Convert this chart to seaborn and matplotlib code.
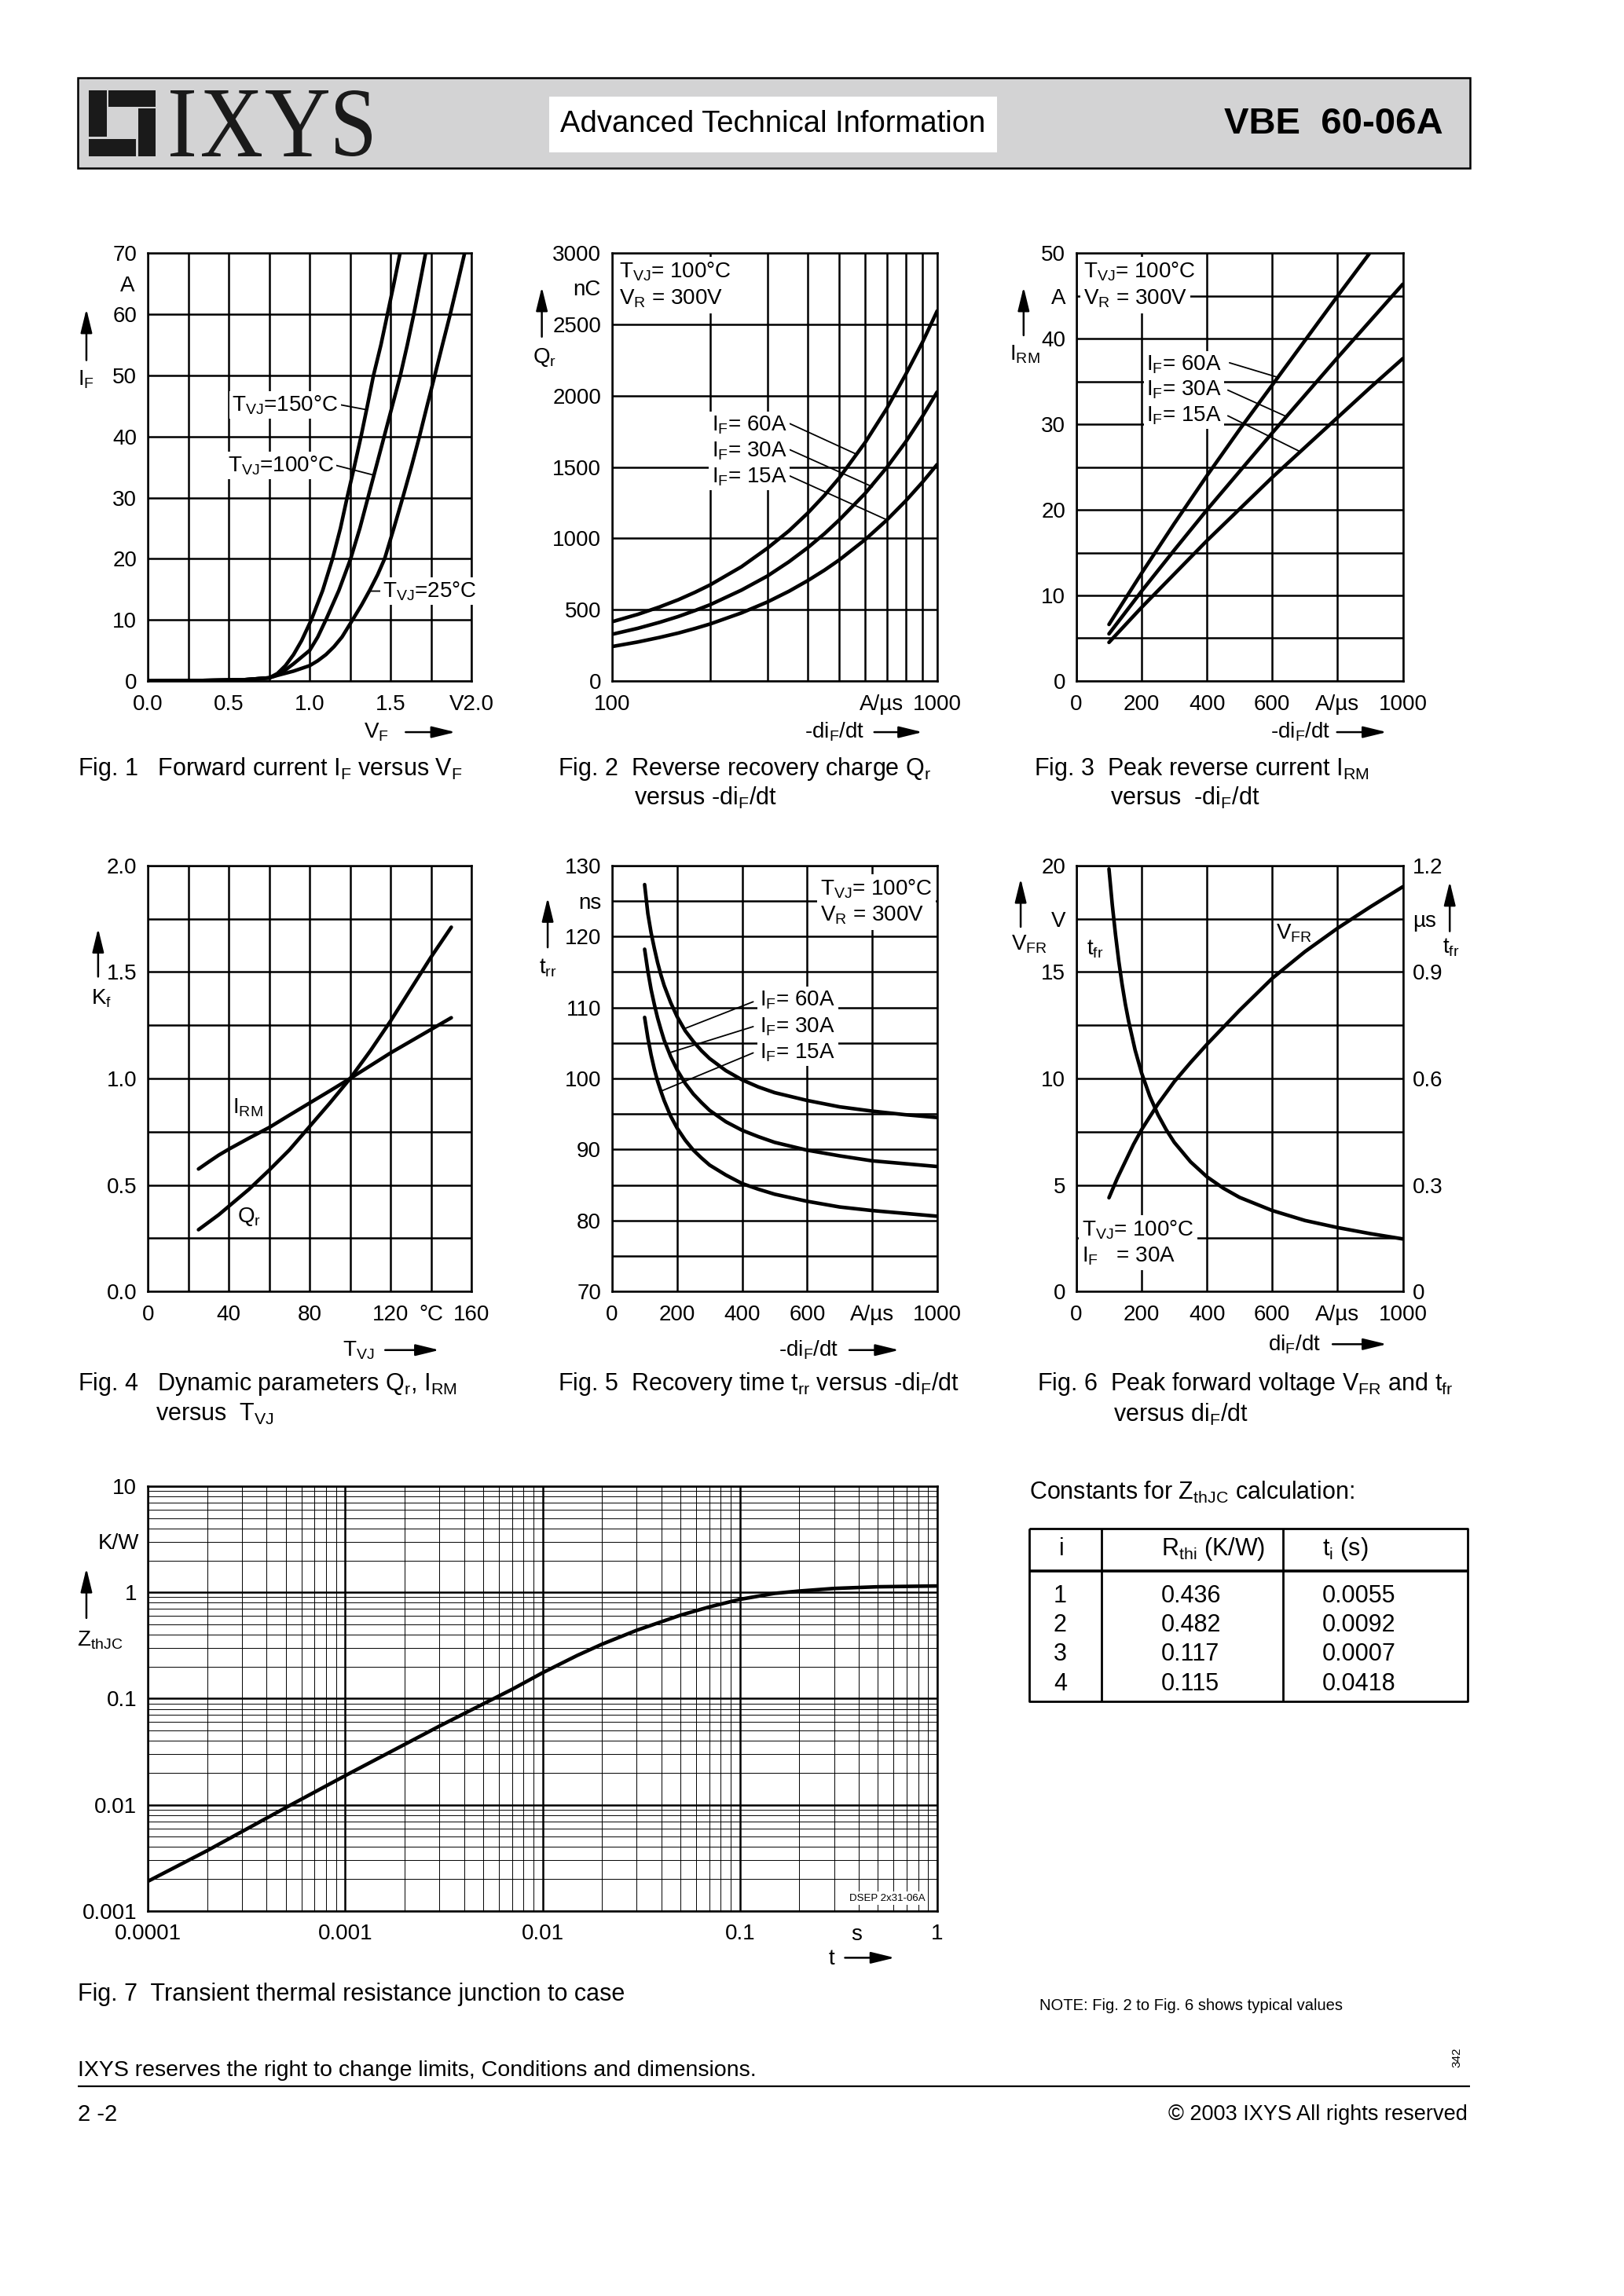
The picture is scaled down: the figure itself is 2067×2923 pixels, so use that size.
import matplotlib
matplotlib.use("Agg")
import numpy as np
import pandas as pd
import matplotlib.pyplot as plt
import seaborn as sns
import matplotlib.ticker as mticker
from matplotlib.patches import Rectangle, FancyArrowPatch, PathPatch
from matplotlib.lines import Line2D
from matplotlib.textpath import TextPath
from matplotlib.font_manager import FontProperties
from matplotlib.transforms import Affine2D

# ---------------------------------------------------------------- data
# Fig. 1  forward current IF (A) versus VF (V)
f1_v150 = [0.0, 0.3, 0.6, 0.75, 0.8, 0.85, 0.9, 0.95, 1.01, 1.08, 1.141, 1.19, 1.231, 1.275, 1.317,
           1.356, 1.394, 1.44, 1.48, 1.52, 1.558]
f1_i150 = [0.0, 0.05, 0.2, 0.5, 1.2, 2.5, 4.3, 6.6, 10.0, 14.8, 20.0, 25.0, 30.0, 35.0, 40.0,
           45.0, 50.0, 55.0, 60.0, 65.0, 70.0]
f1_v100 = [0.0, 0.3, 0.6, 0.75, 0.8, 0.85, 0.9, 0.95, 1.0, 1.05, 1.1, 1.18, 1.253, 1.31, 1.36,
           1.41, 1.46, 1.51, 1.56, 1.603, 1.643, 1.68, 1.716]
f1_i100 = [0.0, 0.05, 0.2, 0.5, 1.0, 1.8, 2.8, 3.9, 5.0, 7.2, 10.0, 14.8, 20.0, 25.0, 30.0,
           35.0, 40.0, 45.0, 50.0, 55.0, 60.0, 65.0, 70.0]
f1_v25 = [0.0, 0.3, 0.6, 0.75, 0.8, 0.9, 1.0, 1.05, 1.1, 1.15, 1.2, 1.265, 1.32, 1.37, 1.42, 1.463,
          1.52, 1.575, 1.63, 1.678, 1.725, 1.773, 1.82, 1.868, 1.913, 1.957]
f1_i25 = [0.0, 0.05, 0.2, 0.5, 0.9, 1.6, 2.5, 3.3, 4.3, 5.6, 7.2, 10.0, 12.4, 14.8, 17.4, 20.0,
          25.0, 30.0, 35.2, 40.0, 45.0, 50.0, 55.0, 60.0, 65.0, 70.0]

# Fig. 2  reverse recovery charge Qr (nC) versus -diF/dt (A/us)
f2_didt = [100, 120, 140, 160, 180, 200, 250, 300, 350, 400, 450, 500, 600, 700, 800, 900, 1000]
f2_q60 = [415, 467, 519, 570, 622, 673, 801, 930, 1053, 1178, 1302, 1425, 1672, 1912, 2150, 2374, 2596]
f2_q30 = [327, 369, 411, 452, 494, 534, 637, 735, 836, 935, 1033, 1130, 1315, 1498, 1677, 1855, 2028]
f2_q15 = [241, 273, 305, 336, 368, 399, 477, 553, 629, 704, 777, 849, 991, 1129, 1263, 1393, 1519]

# Fig. 3  peak reverse current IRM (A) versus -diF/dt (A/us)
f3_didt60 = [100, 200, 300, 400, 500, 600, 700, 800, 898]
f3_i60 = [6.6, 12.6, 18.4, 24.0, 29.4, 34.6, 39.8, 45.0, 50.0]
f3_didt = [100, 200, 300, 400, 500, 600, 700, 800, 900, 1000]
f3_i30 = [5.5, 10.5, 15.3, 20.0, 24.5, 29.0, 33.4, 37.8, 42.1, 46.4]
f3_i15 = [4.5, 8.6, 12.5, 16.4, 20.1, 23.8, 27.3, 30.8, 34.3, 37.7]

# Fig. 4  dynamic parameters Kf versus TVJ (degC)
f4_t_qr = [25, 30, 35, 40, 45, 50, 55, 60, 70, 80, 90, 100, 110, 120, 130, 140, 150]
f4_qr = [0.29, 0.325, 0.36, 0.40, 0.44, 0.48, 0.525, 0.57, 0.665, 0.775, 0.885, 1.0, 1.13, 1.27,
         1.42, 1.57, 1.71]
f4_t_irm = [25, 30, 35, 40, 50, 60, 70, 80, 90, 100, 110, 120, 130, 140, 150]
f4_irm = [0.575, 0.608, 0.64, 0.668, 0.72, 0.77, 0.828, 0.885, 0.942, 1.0, 1.06, 1.12, 1.175,
          1.23, 1.285]

# Fig. 5  recovery time trr (ns) versus -diF/dt (A/us)
f5_didt = [100, 110, 120, 130, 140, 150, 160, 180, 200, 225, 250, 275, 300, 350, 400, 450, 500,
           600, 700, 800, 900, 1000]
f5_t60 = [127.3, 123.2, 120.5, 118.3, 116.3, 114.6, 113.1, 110.7, 108.7, 106.7, 105.2, 103.9,
          102.8, 101.1, 99.8, 98.8, 98.0, 96.9, 96.0, 95.4, 94.9, 94.5]
f5_t30 = [118.2, 115.1, 112.5, 110.4, 108.5, 106.9, 105.4, 103.1, 101.2, 99.3, 97.8, 96.6, 95.5,
          93.9, 92.7, 91.8, 91.0, 89.9, 89.1, 88.4, 88.0, 87.6]
f5_t15 = [108.6, 105.7, 103.3, 101.3, 99.6, 98.2, 96.9, 94.7, 93.0, 91.3, 89.9, 88.8, 87.8, 86.4,
          85.2, 84.4, 83.7, 82.7, 81.9, 81.4, 81.0, 80.6]

# Fig. 6  peak forward voltage VFR (V) and tfr (us) versus diF/dt (A/us)
f6_didt_v = [100, 125, 150, 175, 200, 250, 300, 350, 400, 450, 500, 600, 700, 800, 900, 1000]
f6_vfr = [4.4, 5.3, 6.1, 6.9, 7.6, 8.8, 9.85, 10.75, 11.6, 12.4, 13.2, 14.7, 15.95, 17.05, 18.05, 19.0]
f6_didt_t = [100, 110, 120, 130, 140, 150, 160, 180, 200, 225, 250, 275, 300, 350, 400, 450, 500,
             600, 700, 800, 900, 1000]
f6_tfr = [1.19, 1.09, 1.005, 0.93, 0.866, 0.81, 0.762, 0.68, 0.615, 0.55, 0.498, 0.456, 0.42,
          0.365, 0.323, 0.291, 0.265, 0.228, 0.2, 0.18, 0.163, 0.148]

# Fig. 7  transient thermal resistance ZthJC (K/W) versus t (s)
f7_t = [1e-4, 2e-4, 5e-4, 1e-3, 2e-3, 3e-3, 5e-3, 7e-3, 1e-2, 1.5e-2, 2e-2, 3e-2, 5e-2, 7e-2,
        0.1, 0.15, 0.2, 0.3, 0.5, 1.0]
f7_z = [0.0019, 0.0037, 0.0094, 0.0188, 0.037, 0.055, 0.089, 0.122, 0.175, 0.255, 0.325, 0.44,
        0.61, 0.73, 0.86, 0.98, 1.03, 1.09, 1.13, 1.15]

# Table: constants for ZthJC calculation
tab_i = [1, 2, 3, 4]
tab_rthi = [0.436, 0.482, 0.117, 0.115]
tab_ti = [0.0055, 0.0092, 0.0007, 0.0418]

# tick labels
f1_xlabels = ['0.0', '', '0.5', '', '1.0', '', '1.5', '', 'V2.0']
f1_ylabels = ['0', '10', '20', '30', '40', '50', '60', '70']
f2_xlabels = ['100', '', '', '', '', '', '', '', '', '1000']
f2_ylabels = ['0', '500', '1000', '1500', '2000', '2500', '3000']
f3_xlabels = ['0', '200', '400', '600', 'A/\u00b5s', '1000']
f3_ylabels = ['0', '', '10', '', '20', '', '30', '', '40', 'A', '50']
f4_xlabels = ['0', '', '40', '', '80', '', '120', '\u00b0C', '160']
f4_ylabels = ['0.0', '', '0.5', '', '1.0', '', '1.5', '', '2.0']
f5_xlabels = ['0', '200', '400', '600', 'A/\u00b5s', '1000']
f5_ylabels = ['70', '', '80', '', '90', '', '100', '', '110', '', '120', 'ns', '130']
f6_xlabels = ['0', '200', '400', '600', 'A/\u00b5s', '1000']
f6_ylabels = ['0', '', '5', '', '10', '', '15', 'V', '20']
f6_y2labels = ['0', '0.3', '0.6', '0.9', '\u00b5s', '1.2']
f7_xlabels = ['0.0001', '0.001', '0.01', '0.1', '1']
f7_ylabels = ['0.001', '0.01', '0.1', '1', '10']

# ---------------------------------------------------------------- style
sns.set_style("white")
plt.rcParams['font.family'] = ['Liberation Sans', 'DejaVu Sans']
plt.rcParams['mathtext.fontset'] = 'custom'
plt.rcParams['mathtext.rm'] = 'Liberation Sans'
plt.rcParams['mathtext.it'] = 'Liberation Sans:italic'
plt.rcParams['mathtext.bf'] = 'Liberation Sans:bold'
plt.rcParams['text.color'] = 'black'
plt.rcParams['axes.axisbelow'] = True

W, H = 2067, 2923
SW, SH = 1109.0, 1568.0
fig = plt.figure(figsize=(W / 100, H / 100), dpi=100)
fig.patch.set_facecolor('white')

TICK_FS = 20
LBL_FS = 20
CAP_FS = 22
TAB_FS = 22
GRID_LW = 1.8
CURVE_LW = 3.3
LEAD_LW = 1.3
BLACK = 'black'


def fx(x):
    return x / SW


def fy(y):
    return 1 - y / SH


def add_ax(x0, y0, x1, y1):
    return fig.add_axes([fx(x0), fy(y1), (x1 - x0) / SW, (y1 - y0) / SH])


def ftext(x, y, s, **kw):
    kw.setdefault('fontsize', LBL_FS)
    kw.setdefault('va', 'center')
    return fig.text(fx(x), fy(y), s, **kw)


def farrow(x0, y0, x1, y1, ms=16):
    fig.add_artist(FancyArrowPatch((fx(x0), fy(y0)), (fx(x1), fy(y1)),
                                   transform=fig.transFigure,
                                   arrowstyle='-|>,head_length=1.15,head_width=0.28',
                                   mutation_scale=ms, lw=1.8, color=BLACK,
                                   shrinkA=0, shrinkB=0))


def fline(xs, ys, lw=2.0):
    fig.add_artist(Line2D([fx(v) for v in xs], [fy(v) for v in ys],
                          transform=fig.transFigure, color=BLACK, lw=lw,
                          solid_capstyle='butt'))


def style_ax(ax, xpad=12, ypad=10):
    ax.set_facecolor('white')
    ax.tick_params(axis='both', which='both', length=0, labelsize=TICK_FS, colors=BLACK)
    ax.tick_params(axis='x', pad=xpad)
    ax.tick_params(axis='y', pad=ypad)
    for sp in ax.spines.values():
        sp.set_visible(True)
        sp.set_linewidth(GRID_LW)
        sp.set_color(BLACK)
    ax.grid(True, which='major', color=BLACK, linewidth=GRID_LW)
    ax.set_xlabel('')
    ax.set_ylabel('')


def curve(ax, xs, ys):
    sns.lineplot(x=xs, y=ys, ax=ax, color=BLACK, linewidth=CURVE_LW,
                 estimator=None, sort=False, legend=False)


def label(ax, x, y, s, ha='left'):
    ax.text(x, y, s, ha=ha, va='center', fontsize=LBL_FS, zorder=5,
            bbox=dict(facecolor='white', edgecolor='none', pad=2.5))


def leader(ax, p0, p1):
    ax.annotate('', xy=p1, xytext=p0,
                arrowprops=dict(arrowstyle='-', lw=LEAD_LW, color=BLACK,
                                shrinkA=0, shrinkB=0), zorder=4)


def boxtext(ax, x, y, s):
    ax.text(x, y, s, transform=ax.transAxes, ha='left', va='center',
            fontsize=LBL_FS, zorder=5,
            bbox=dict(facecolor='white', edgecolor='none', pad=3))


SUB = lambda s: r'$_{\rm ' + s + '}$'

# ---------------------------------------------------------------- header
fig.add_artist(Rectangle((99 / W, 1 - 214 / H), (1871 - 99) / W, (214 - 99) / H,
                         transform=fig.transFigure, facecolor='#d3d3d4',
                         edgecolor=BLACK, lw=1.8))
fig.add_artist(Rectangle((699 / W, 1 - 194 / H), (1269 - 699) / W, (194 - 123) / H,
                         transform=fig.transFigure, facecolor='white',
                         edgecolor='none'))
fig.text(984 / W, 1 - 158 / H, 'Advanced Technical Information', fontsize=27.5,
         ha='center', va='center')
fig.text(1837 / W, 1 - 158 / H, 'VBE  60-06A', fontsize=34, fontweight='bold',
         ha='right', va='center')

# logo square
for (x0, x1, y0, y1) in [(113.3, 135.7, 115, 174), (138.3, 197.7, 115, 135.7),
                         (176, 197.7, 138.3, 199), (113.3, 173.3, 176.7, 199)]:
    fig.add_artist(Rectangle((x0 / W, 1 - y1 / H), (x1 - x0) / W, (y1 - y0) / H,
                             transform=fig.transFigure, facecolor='#1a1a1a',
                             edgecolor='none'))
serif = FontProperties(family='Liberation Serif')
for ch, (bx0, bx1) in zip('IXYS', [(217, 247), (257, 333), (338, 418), (427, 473)]):
    tp = TextPath((0, 0), ch, size=100, prop=serif)
    ext = tp.get_extents()
    by0, by1 = 115, 199
    tr = (Affine2D().translate(-ext.x0, -ext.y0)
          .scale((bx1 - bx0) / ext.width, (by1 - by0) / ext.height)
          .translate(bx0, H - by1).scale(1 / W, 1 / H))
    fig.add_artist(PathPatch(tr.transform_path(tp), transform=fig.transFigure,
                             facecolor='#1a1a1a', edgecolor='none'))

# ---------------------------------------------------------------- Fig. 1
ax1 = add_ax(101, 173, 322, 465)
curve(ax1, f1_v150, f1_i150)
curve(ax1, f1_v100, f1_i100)
curve(ax1, f1_v25, f1_i25)
style_ax(ax1)
ax1.set_xlim(0, 2)
ax1.set_ylim(0, 70)
ax1.set_xticks(np.arange(0, 2.01, 0.25))
ax1.set_xticklabels(f1_xlabels)
ax1.set_yticks(np.arange(0, 71, 10))
ax1.set_yticklabels(f1_ylabels)
label(ax1, 1.175, 45.2, 'T' + SUB('VJ') + '=150\u00b0C', ha='right')
leader(ax1, (1.19, 45.2), (1.35, 44.4))
label(ax1, 1.15, 35.3, 'T' + SUB('VJ') + '=100\u00b0C', ha='right')
leader(ax1, (1.16, 35.3), (1.394, 33.7))
label(ax1, 1.45, 14.7, 'T' + SUB('VJ') + '=25\u00b0C', ha='left')
leader(ax1, (1.365, 14.7), (1.45, 14.7))
ftext(92, 195, 'A', ha='right', fontsize=TICK_FS)
farrow(59, 246, 59, 211)
ftext(59, 259, 'I' + SUB('F'), ha='center')
ftext(257, 500, 'V' + SUB('F'), ha='center')
farrow(277, 500, 311, 500)
ftext(53, 525, 'Fig. 1   Forward current I' + SUB('F') + ' versus V' + SUB('F'),
      ha='left', fontsize=CAP_FS)

# ---------------------------------------------------------------- Fig. 2
ax2 = add_ax(418, 173, 640, 465)
ax2.set_xscale('log')
curve(ax2, f2_didt, f2_q60)
curve(ax2, f2_didt, f2_q30)
curve(ax2, f2_didt, f2_q15)
style_ax(ax2)
ax2.set_xlim(100, 1000)
ax2.set_ylim(0, 3000)
ax2.xaxis.set_major_locator(mticker.FixedLocator(list(range(100, 1001, 100))))
ax2.xaxis.set_major_formatter(mticker.FixedFormatter(f2_xlabels))
ax2.xaxis.set_minor_locator(mticker.NullLocator())
ax2.set_yticks(np.arange(0, 3001, 500))
ax2.set_yticklabels(f2_ylabels)
boxtext(ax2, 0.022, 0.958, 'T' + SUB('VJ') + '= 100\u00b0C')
boxtext(ax2, 0.022, 0.893, 'V' + SUB('R') + ' = 300V')
label(ax2, 345, 1795, 'I' + SUB('F') + '= 60A', ha='right')
leader(ax2, (352, 1805), (565, 1590))
label(ax2, 345, 1612, 'I' + SUB('F') + '= 30A', ha='right')
leader(ax2, (352, 1622), (632, 1362))
label(ax2, 345, 1430, 'I' + SUB('F') + '= 15A', ha='right')
leader(ax2, (352, 1438), (700, 1130))
ftext(410, 198, 'nC', ha='right', fontsize=TICK_FS)
ftext(602, 481, 'A/\u00b5s', ha='center', fontsize=TICK_FS)
farrow(370, 230, 370, 196)
ftext(372, 244, 'Q' + SUB('r'), ha='center')
ftext(570, 500, '-di' + SUB('F') + '/dt', ha='center')
farrow(597, 500, 630, 500)
ftext(381, 525, 'Fig. 2  Reverse recovery charge Q' + SUB('r'), ha='left', fontsize=CAP_FS)
ftext(433, 545, 'versus -di' + SUB('F') + '/dt', ha='left', fontsize=CAP_FS)

# ---------------------------------------------------------------- Fig. 3
ax3 = add_ax(735, 173, 958, 465)
curve(ax3, f3_didt60, f3_i60)
curve(ax3, f3_didt, f3_i30)
curve(ax3, f3_didt, f3_i15)
style_ax(ax3)
ax3.set_xlim(0, 1000)
ax3.set_ylim(0, 50)
ax3.set_xticks(np.arange(0, 1001, 200))
ax3.set_xticklabels(f3_xlabels)
ax3.set_yticks(np.arange(0, 51, 5))
ax3.set_yticklabels(f3_ylabels)
boxtext(ax3, 0.022, 0.958, 'T' + SUB('VJ') + '= 100\u00b0C')
boxtext(ax3, 0.022, 0.893, 'V' + SUB('R') + ' = 300V')
label(ax3, 445, 37.0, 'I' + SUB('F') + '= 60A', ha='right')
leader(ax3, (469, 37.2), (617, 35.5))
label(ax3, 445, 34.0, 'I' + SUB('F') + '= 30A', ha='right')
leader(ax3, (464, 34.0), (644, 30.9))
label(ax3, 445, 31.0, 'I' + SUB('F') + '= 15A', ha='right')
leader(ax3, (464, 31.0), (686, 26.8))
farrow(699, 229, 699, 196)
ftext(700, 242, 'I' + SUB('RM'), ha='center')
ftext(888, 500, '-di' + SUB('F') + '/dt', ha='center')
farrow(913, 500, 947, 500)
ftext(706, 525, 'Fig. 3  Peak reverse current I' + SUB('RM'), ha='left', fontsize=CAP_FS)
ftext(758, 545, 'versus  -di' + SUB('F') + '/dt', ha='left', fontsize=CAP_FS)

# ---------------------------------------------------------------- Fig. 4
ax4 = add_ax(101, 591, 322, 882)
curve(ax4, f4_t_qr, f4_qr)
curve(ax4, f4_t_irm, f4_irm)
style_ax(ax4)
ax4.set_xlim(0, 160)
ax4.set_ylim(0, 2.0)
ax4.set_xticks(np.arange(0, 161, 20))
ax4.set_xticklabels(f4_xlabels)
ax4.set_yticks(np.arange(0, 2.01, 0.25))
ax4.set_yticklabels(f4_ylabels)
ax4.text(42, 0.862, 'I' + SUB('RM'), ha='left', va='center', fontsize=LBL_FS)
ax4.text(44, 0.352, 'Q' + SUB('r'), ha='left', va='center', fontsize=LBL_FS)
farrow(67, 667, 67, 634)
ftext(69, 682, 'K' + SUB('f'), ha='center')
ftext(245, 922, 'T' + SUB('VJ'), ha='center')
farrow(263, 922, 300, 922)
ftext(53, 945, 'Fig. 4   Dynamic parameters Q' + SUB('r') + ', I' + SUB('RM'),
      ha='left', fontsize=CAP_FS)
ftext(106, 966, 'versus  T' + SUB('VJ'), ha='left', fontsize=CAP_FS)

# ---------------------------------------------------------------- Fig. 5
ax5 = add_ax(418, 591, 640, 882)
curve(ax5, f5_didt, f5_t60)
curve(ax5, f5_didt, f5_t30)
curve(ax5, f5_didt, f5_t15)
style_ax(ax5)
ax5.set_xlim(0, 1000)
ax5.set_ylim(70, 130)
ax5.set_xticks(np.arange(0, 1001, 200))
ax5.set_xticklabels(f5_xlabels)
ax5.set_yticks(np.arange(70, 131, 5))
ax5.set_yticklabels(f5_ylabels)
boxtext(ax5, 0.64, 0.945, 'T' + SUB('VJ') + '= 100\u00b0C')
boxtext(ax5, 0.64, 0.882, 'V' + SUB('R') + ' = 300V')
label(ax5, 455, 111.0, 'I' + SUB('F') + '= 60A')
leader(ax5, (434, 110.8), (222, 107.0))
label(ax5, 455, 107.3, 'I' + SUB('F') + '= 30A')
leader(ax5, (434, 107.3), (175, 103.6))
label(ax5, 455, 103.6, 'I' + SUB('F') + '= 15A')
leader(ax5, (434, 103.6), (150, 98.2))
farrow(374, 647, 374, 613)
ftext(374, 661, 't' + SUB('rr'), ha='center')
ftext(552, 922, '-di' + SUB('F') + '/dt', ha='center')
farrow(580, 922, 614, 922)
ftext(381, 945, 'Fig. 5  Recovery time t' + SUB('rr') + ' versus -di' + SUB('F') + '/dt',
      ha='left', fontsize=CAP_FS)

# ---------------------------------------------------------------- Fig. 6
ax6 = add_ax(735, 591, 958, 882)
curve(ax6, f6_didt_v, f6_vfr)
style_ax(ax6)
ax6.set_xlim(0, 1000)
ax6.set_ylim(0, 20)
ax6.set_xticks(np.arange(0, 1001, 200))
ax6.set_xticklabels(f6_xlabels)
ax6.set_yticks(np.arange(0, 20.01, 2.5))
ax6.set_yticklabels(f6_ylabels)
ax6b = ax6.twinx()
curve(ax6b, f6_didt_t, f6_tfr)
ax6b.set_ylim(0, 1.2)
ax6b.set_yticks([0, 0.3, 0.6, 0.9, 1.05, 1.2])
ax6b.set_yticklabels(f6_y2labels)
ax6b.tick_params(axis='y', length=0, labelsize=TICK_FS, pad=9, colors=BLACK)
ax6b.grid(False)
ax6b.set_ylabel('')
for sp in ax6b.spines.values():
    sp.set_visible(False)
ax6.text(32, 16.06, 't' + SUB('fr'), ha='left', va='center', fontsize=LBL_FS)
ax6.text(611, 16.8, 'V' + SUB('FR'), ha='left', va='center', fontsize=LBL_FS)
boxtext(ax6, 0.018, 0.145, 'T' + SUB('VJ') + '= 100\u00b0C')
boxtext(ax6, 0.018, 0.083, 'I' + SUB('F') + '   = 30A')
farrow(697, 633, 697, 600)
ftext(703, 645, 'V' + SUB('FR'), ha='center')
farrow(990, 636, 990, 602)
ftext(991, 647, 't' + SUB('fr'), ha='center')
ftext(884, 918, 'di' + SUB('F') + '/dt', ha='center')
farrow(910, 918, 947, 918)
ftext(708, 945, 'Fig. 6  Peak forward voltage V' + SUB('FR') + ' and t' + SUB('fr'),
      ha='left', fontsize=CAP_FS)
ftext(760, 966, 'versus di' + SUB('F') + '/dt', ha='left', fontsize=CAP_FS)

# ---------------------------------------------------------------- Fig. 7
ax7 = add_ax(101, 1015, 640, 1305)
ax7.set_xscale('log')
ax7.set_yscale('log')
curve(ax7, f7_t, f7_z)
style_ax(ax7)
ax7.set_xlim(1e-4, 1)
ax7.set_ylim(1e-3, 10)
ax7.xaxis.set_major_locator(mticker.FixedLocator([1e-4, 1e-3, 1e-2, 1e-1, 1]))
ax7.xaxis.set_major_formatter(mticker.FixedFormatter(f7_xlabels))
ax7.yaxis.set_major_locator(mticker.FixedLocator([1e-3, 1e-2, 1e-1, 1, 10]))
ax7.yaxis.set_major_formatter(mticker.FixedFormatter(f7_ylabels))
ax7.xaxis.set_minor_locator(mticker.LogLocator(base=10, subs=np.arange(2, 10)))
ax7.yaxis.set_minor_locator(mticker.LogLocator(base=10, subs=np.arange(2, 10)))
ax7.xaxis.set_minor_formatter(mticker.NullFormatter())
ax7.yaxis.set_minor_formatter(mticker.NullFormatter())
ax7.grid(True, which='minor', color=BLACK, linewidth=0.7)
ax7.text(0.985, 0.03, 'DSEP 2x31-06A', transform=ax7.transAxes, ha='right',
         va='center', fontsize=9.5, zorder=5,
         bbox=dict(facecolor='white', edgecolor='none', pad=1.5))
ftext(95, 1054, 'K/W', ha='right', fontsize=TICK_FS)
ftext(585, 1321, 's', ha='center', fontsize=TICK_FS)
farrow(59, 1105, 59, 1071)
ftext(68, 1120, 'Z' + SUB('thJC'), ha='center')
ftext(568, 1338, 't', ha='center')
farrow(577, 1337, 611, 1337)
ftext(53, 1362, 'Fig. 7  Transient thermal resistance junction to case', ha='left',
      fontsize=CAP_FS)

# ---------------------------------------------------------------- table
ftext(703, 1019, 'Constants for Z' + SUB('thJC') + ' calculation:', ha='left', fontsize=CAP_FS)
tx0, tx1, ty0, ty1 = 703, 1002, 1044, 1162
c1, c2, hdr = 752, 876, 1073
fline([tx0, tx1, tx1, tx0, tx0], [ty0, ty0, ty1, ty1, ty0], lw=2.0)
fline([c1, c1], [ty0, ty1], lw=2.0)
fline([c2, c2], [ty0, ty1], lw=2.0)
fline([tx0, tx1], [hdr, hdr], lw=2.6)
ftext(725, 1058, 'i', ha='center', fontsize=TAB_FS)
ftext(793, 1058, 'R' + SUB('thi') + ' (K/W)', ha='left', fontsize=TAB_FS)
ftext(903, 1058, 't' + SUB('i') + ' (s)', ha='left', fontsize=TAB_FS)
for k, (i, r, t) in enumerate(zip(tab_i, tab_rthi, tab_ti)):
    yy = 1090 + 20 * k
    ftext(724, yy, str(i), ha='center', fontsize=TAB_FS)
    ftext(793, yy, f'{r:.3f}', ha='left', fontsize=TAB_FS)
    ftext(903, yy, f'{t:.4f}', ha='left', fontsize=TAB_FS)

# ---------------------------------------------------------------- footer
ftext(710, 1370, 'NOTE: Fig. 2 to Fig. 6 shows typical values', ha='left', fontsize=14.5)
ftext(53, 1414, 'IXYS reserves the right to change limits, Conditions and dimensions.',
      ha='left', fontsize=20.5)
fline([53, 1004], [1425, 1425], lw=1.6)
ftext(53, 1444, '2 -2', ha='left', fontsize=21)
ftext(1002, 1444, '\u00a9 2003 IXYS All rights reserved', ha='right', fontsize=19.5)
fig.text(fx(995), fy(1405), '342', rotation=90, ha='center', va='center', fontsize=11)

fig.savefig('out.png', dpi=100, facecolor='white')
